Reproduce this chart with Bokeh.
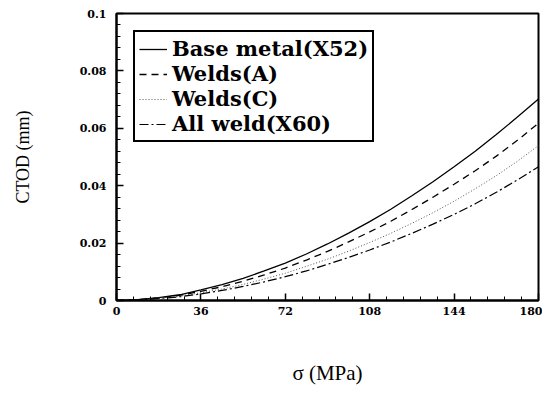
from bokeh.plotting import figure
from bokeh.models import Legend, LegendItem, FixedTicker, Range1d
from bokeh.embed import file_html
from bokeh.resources import INLINE

# ---- data ----
stress = [0, 9, 18, 27, 36, 45, 54, 63, 72, 81, 90, 99, 108, 117, 126, 135, 144, 153, 162, 171, 180]
base_metal = [0, 0.0003, 0.0010, 0.0020, 0.0037, 0.0055, 0.0077, 0.0103, 0.0130, 0.0162, 0.0197,
              0.0235, 0.0275, 0.0318, 0.0365, 0.0414, 0.0466, 0.0520, 0.0578, 0.0639, 0.0702]
welds_a = [0, 0.0003, 0.0009, 0.0018, 0.0032, 0.0048, 0.0067, 0.0089, 0.0113, 0.0141, 0.0171,
           0.0204, 0.0239, 0.0276, 0.0317, 0.0360, 0.0405, 0.0452, 0.0503, 0.0558, 0.0618]
welds_c = [0, 0.0002, 0.0008, 0.0015, 0.0027, 0.0040, 0.0056, 0.0075, 0.0095, 0.0119, 0.0144,
           0.0172, 0.0202, 0.0234, 0.0269, 0.0306, 0.0346, 0.0389, 0.0435, 0.0485, 0.0540]
all_weld = [0, 0.0002, 0.0007, 0.0013, 0.0023, 0.0035, 0.0049, 0.0065, 0.0083, 0.0103, 0.0126,
            0.0150, 0.0176, 0.0204, 0.0234, 0.0266, 0.0300, 0.0337, 0.0377, 0.0420, 0.0466]
series_names = ["Base metal(X52)", "Welds(A)", "Welds(C)", "All weld(X60)"]
x_ticks = [0, 36, 72, 108, 144, 180]
x_tick_labels = ["0", "36", "72", "108", "144", "180"]
y_ticks = [0, 0.02, 0.04, 0.06, 0.08, 0.1]
y_tick_labels = ["0", "0.02", "0.04", "0.06", "0.08", "0.1"]
x_title = "σ (MPa)"
y_title = "CTOD (mm)"

p = figure(width=542, height=387, output_backend="svg", toolbar_location=None,
           x_range=Range1d(0, 180), y_range=Range1d(0, 0.1),
           min_border_left=116, min_border_right=4, min_border_top=13, min_border_bottom=86)
p.xgrid.visible = False
p.ygrid.visible = False
p.outline_line_color = "black"
p.outline_line_width = 2
p.outline_line_alpha = 1
p.background_fill_color = "white"
p.border_fill_color = "white"

tick_font = "DejaVu Serif"
for ax, ticks, labels, n_minor in ((p.xaxis[0], x_ticks, x_tick_labels, 5),
                                   (p.yaxis[0], y_ticks, y_tick_labels, 5)):
    ax.ticker = FixedTicker(ticks=ticks,
                            minor_ticks=[ticks[i] + (ticks[i + 1] - ticks[i]) * k / n_minor
                                         for i in range(len(ticks) - 1) for k in range(1, n_minor)])
    ax.major_label_overrides = {t: l for t, l in zip(ticks, labels)}
    ax.axis_line_width = 2
    ax.axis_line_color = "black"
    ax.major_tick_in = 7
    ax.major_tick_out = 0
    ax.minor_tick_in = 4
    ax.minor_tick_out = 0
    ax.major_tick_line_width = 1.5
    ax.minor_tick_line_width = 1
    ax.major_tick_line_color = "black"
    ax.minor_tick_line_color = "black"
    ax.major_label_text_font = tick_font
    ax.major_label_text_font_style = "bold"
    ax.major_label_text_font_size = "11px"
    ax.major_label_text_color = "black"
    ax.axis_label_text_font = "Liberation Serif"
    ax.axis_label_text_font_style = "normal"
    ax.axis_label_text_color = "#000000"

p.xaxis[0].axis_label = x_title
p.xaxis[0].axis_label_text_font_size = "21px"
p.xaxis[0].major_label_standoff = 6
p.xaxis[0].axis_label_standoff = 43
p.yaxis[0].axis_label = y_title
p.yaxis[0].axis_label_text_font_size = "18px"
p.yaxis[0].major_label_standoff = 10
p.yaxis[0].axis_label_standoff = 44

r1 = p.line(stress, base_metal, line_color="black", line_width=1.3)
r2 = p.line(stress, welds_a, line_color="black", line_width=1.3, line_dash="7 5")
r3 = p.line(stress, welds_c, line_color="#555555", line_width=1, line_dash="1 2")
r4 = p.line(stress, all_weld, line_color="black", line_width=1.2, line_dash="9 3 2 3")

legend = Legend(items=[LegendItem(label=n, renderers=[r]) for n, r in
                       zip(series_names, [r1, r2, r3, r4])],
                location="top_left", margin=17, padding=4, spacing=0,
                label_text_font="DejaVu Serif", label_text_font_style="bold",
                label_text_font_size="21px", label_text_color="black",
                label_height=18, glyph_height=18,
                glyph_width=28, label_standoff=5,
                border_line_color="black", border_line_width=2, border_line_alpha=1,
                background_fill_color="white", background_fill_alpha=1)
p.add_layout(legend, "center")

open("out.html", "w").write(file_html(p, INLINE))
